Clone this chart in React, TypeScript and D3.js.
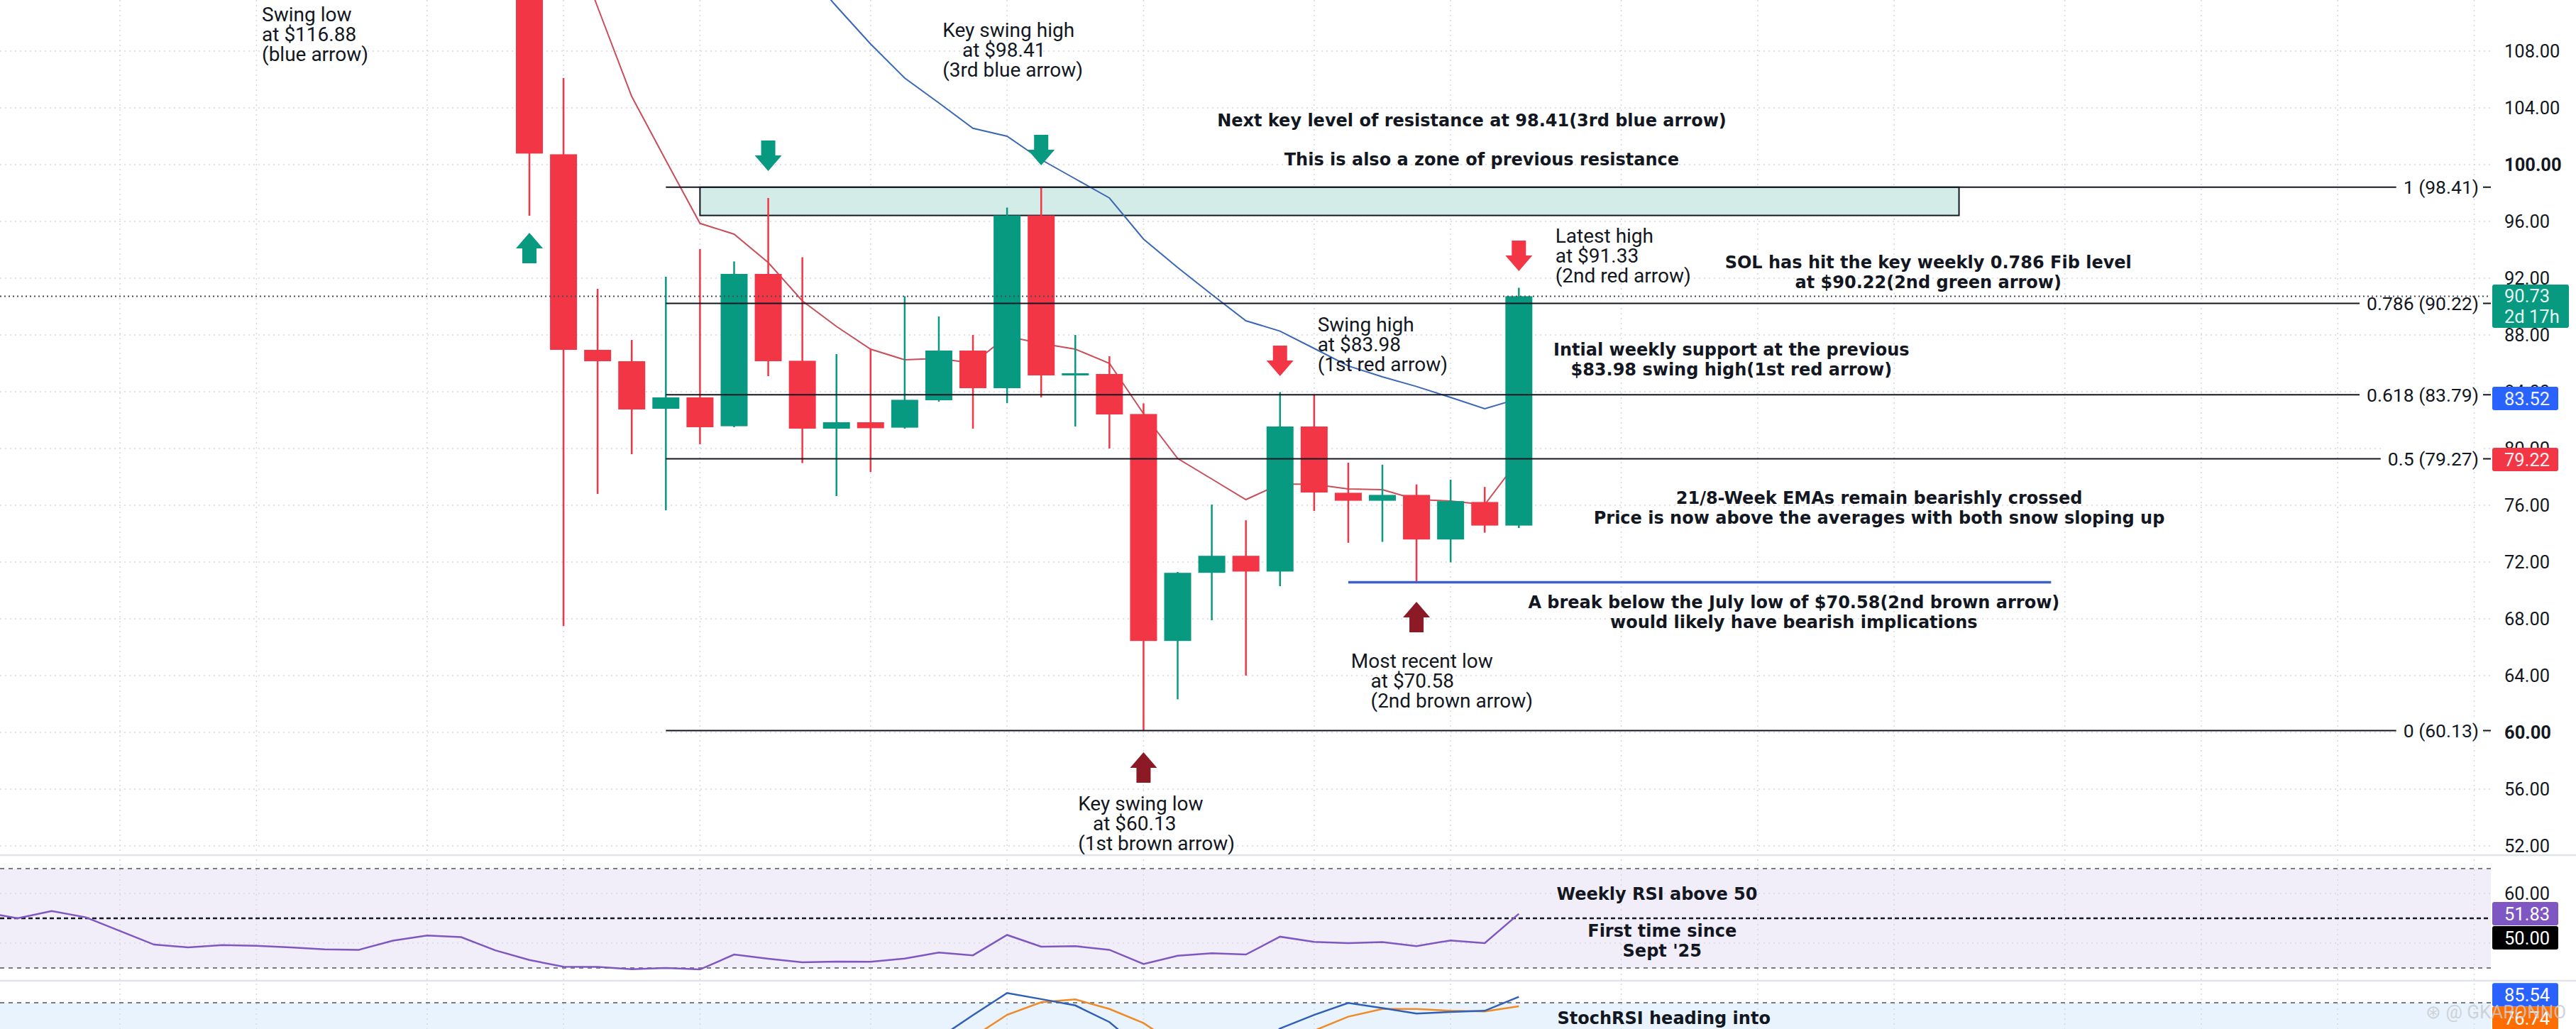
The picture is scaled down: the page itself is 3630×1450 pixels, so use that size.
// @ts-nocheck
import React, { useEffect, useRef } from "react";
import * as d3 from "d3";

const WIDTH = 3630;
const HEIGHT = 1450;
const FONT = "Roboto, 'Noto Sans', sans-serif";
const BOLD_FONT = "'DejaVu Sans', Roboto, sans-serif";

// weekly SOL candles, week index 0..29 (the first one opens above the visible pane)
const opens = [122.5, 100.73, 86.95, 86.15, 82.8, 83.6, 81.57, 92.3, 86.18, 81.4, 81.85, 81.47, 83.4, 86.9, 84.25, 96.42, 85.2, 85.25, 82.43, 66.44, 71.24, 72.44, 71.33, 81.55, 76.88, 76.32, 76.73, 73.59, 76.23, 74.57];
const highs = [124, 106.1, 91.25, 87.65, 92.1, 94.05, 93.18, 97.65, 93.47, 86.65, 87.0, 90.73, 89.3, 88.0, 96.98, 98.41, 88.0, 86.5, 83.17, 71.3, 76.05, 74.94, 83.98, 83.75, 79.0, 78.86, 77.47, 77.8, 77.29, 91.33];
const lows = [96.4, 67.5, 76.8, 79.6, 75.65, 80.3, 81.5, 85.1, 78.98, 76.65, 78.35, 81.4, 83.3, 81.4, 83.2, 83.6, 81.55, 80.0, 60.13, 62.33, 67.9, 64.0, 70.3, 75.6, 73.36, 73.42, 70.58, 71.98, 74.07, 74.4];
const closes = [100.78, 86.95, 86.15, 82.75, 83.6, 81.5, 92.3, 86.15, 81.4, 81.85, 81.43, 83.43, 86.9, 84.25, 96.42, 85.15, 85.3, 82.4, 66.44, 71.24, 72.44, 71.33, 81.55, 76.9, 76.32, 76.73, 73.59, 76.29, 74.57, 90.73];

// 8 week (red) and 21 week (blue) EMAs, same weeks
const ema8 = [122, 117.5, 111.1, 104.8, 100.3, 95.86, 95.1, 93.1, 90.4, 88.6, 87.0, 86.25, 86.35, 86.0, 87.9, 87.4, 87.0, 86.0, 82.45, 79.3, 77.85, 76.4, 77.5, 77.47, 77.15, 77.1, 76.4, 76.3, 76.05, 79.22];
const ema21 = [134, 131, 128.5, 126, 123.5, 121, 118.5, 116.2, 113.9, 111.15, 108.5, 106.1, 104.35, 102.56, 102.0, 100.35, 99.0, 97.65, 94.75, 92.75, 90.85, 89.0, 88.27, 87.05, 85.82, 85.05, 84.37, 83.6, 82.8, 83.52];

// weekly RSI, week index -16..29
const rsiStart = -16;
const rsi = [52.5, 50.0, 52.9, 50.4, 44.9, 39.4, 38.3, 39.2, 38.9, 38.3, 37.5, 37.3, 41.0, 43.1, 42.4, 37.1,
  33.2, 30.5, 30.4, 29.5, 30.0, 29.4, 35.4, 33.7, 32.3, 32.6, 32.5, 33.8, 36.2, 35.1, 43.3, 38.6, 38.8, 37.3, 31.6, 34.9, 35.9, 35.4, 42.6, 40.5, 40.0, 40.4, 38.8, 41.1, 40.0, 51.83];

// stoch RSI K / D, week index 12..29 (only the top of that pane is visible)
const stochStart = 12;
const stochK = [47, 68.4, 89.1, 83.4, 77.5, 62, 35, 18, 12, 30, 56, 68.7, 79.8, 75, 69.9, 71.4, 72.5, 85.54];
const stochD = [30, 48, 68.7, 80.5, 83.1, 74.2, 61, 40, 22, 20, 35, 54, 67.0, 74.2, 74.2, 72.5, 71.9, 76.74];

const priceTicks = [52, 56, 60, 64, 68, 72, 76, 80, 84, 88, 92, 96, 100, 104, 108];
const boldTicks = [60, 100];
const rsiGridTicks = [40, 60];
const rsiLabelTicks = [60];
const monthGrid = [-12, -8, -3, 1, 5, 10, 14, 18, 23, 27, 32, 36, 40, 45, 49, 53, 57];

const fibLevels = ["1", "0.786", "0.618", "0.5", "0"];
const fibPrices = [98.41, 90.22, 83.79, 79.27, 60.13];
const resistanceZone = [96.42, 98.41];
const julyLow = 70.58;

const arrows = [
  { week: 0, tip: 95.2, dir: "up", color: "#089981" },
  { week: 7, tip: 99.55, dir: "down", color: "#089981" },
  { week: 15, tip: 99.95, dir: "down", color: "#089981" },
  { week: 22, tip: 85.1, dir: "down", color: "#f23645" },
  { week: 29, tip: 92.5, dir: "down", color: "#f23645" },
  { week: 18, tip: 58.6, dir: "up", color: "#8b1a26" },
  { week: 26, tip: 69.2, dir: "up", color: "#8b1a26" },
];

const notes = [
  { pane: "price", week: -7.84, value: 110.6, anchor: "start", bold: false, lines: ["Swing low", "at $116.88", "(blue arrow)"] },
  { pane: "price", week: 12.11, value: 109.48, anchor: "start", bold: false, lines: ["Key swing high", "    at $98.41", "(3rd blue arrow)"] },
  { pane: "price", week: 27.62, value: 103.12, anchor: "middle", bold: true, lines: ["Next key level of resistance at 98.41(3rd blue arrow)"] },
  { pane: "price", week: 27.91, value: 100.33, anchor: "middle", bold: true, lines: ["This is also a zone of previous resistance"] },
  { pane: "price", week: 30.07, value: 94.97, anchor: "start", bold: false, lines: ["Latest high", "at $91.33", "(2nd red arrow)"] },
  { pane: "price", week: 41.0, value: 93.12, anchor: "middle", bold: true, lines: ["SOL has hit the key weekly 0.786 Fib level", "at $90.22(2nd green arrow)"] },
  { pane: "price", week: 23.1, value: 88.72, anchor: "start", bold: false, lines: ["Swing high", "at $83.98", "(1st red arrow)"] },
  { pane: "price", week: 35.23, value: 86.935, anchor: "middle", bold: true, lines: ["Intial weekly support at the previous", "$83.98 swing high(1st red arrow)"] },
  { pane: "price", week: 39.56, value: 76.515, anchor: "middle", bold: true, lines: ["21/8-Week EMAs remain bearishly crossed", "Price is now above the averages with both snow sloping up"] },
  { pane: "price", week: 37.06, value: 69.15, anchor: "middle", bold: true, lines: ["A break below the July low of $70.58(2nd brown arrow)", "would likely have bearish implications"] },
  { pane: "price", week: 24.08, value: 65.05, anchor: "start", bold: false, lines: ["Most recent low", "    at $70.58", "    (2nd brown arrow)"] },
  { pane: "price", week: 16.08, value: 55.0, anchor: "start", bold: false, lines: ["Key swing low", "   at $60.13", "(1st brown arrow)"] },
  { pane: "rsi", week: 33.05, value: 59.7, anchor: "middle", bold: true, lines: ["Weekly RSI above 50"] },
  { pane: "rsi", week: 33.2, value: 44.86, anchor: "middle", bold: true, lines: ["First time since", "Sept '25"] },
  { pane: "stoch", week: 33.25, value: 65.4, anchor: "middle", bold: true, lines: ["StochRSI heading into"] },
];

function arrowPath(cx, tip, dir) {
  // dir 1 points down (tip at the bottom), -1 points up
  const headW = 19, headL = 22, stemW = 10, total = 43;
  const b = tip - dir * headL;
  const e = tip - dir * total;
  return `M${cx},${tip}L${cx - headW},${b}L${cx - stemW},${b}L${cx - stemW},${e}L${cx + stemW},${e}L${cx + stemW},${b}L${cx + headW},${b}Z`;
}

function drawChart(svgEl) {
  const svg = d3.select(svgEl);
  svg.selectAll("*").remove();

  const paneRight = 3510;
  const mainBottom = 1205;
  const rsiBottom = 1382;
  const axisX = 3529;

  const x = d3.scaleLinear().domain([0, 29]).range([746, 746 + 29 * 48.08]);
  const y = d3.scaleLinear().domain([60, 100]).range([1032, 232]);
  const yRsi = d3.scaleLinear().domain([30, 70]).range([1364, 1224]);
  const yStoch = d3.scaleLinear().domain([80, 100]).range([1413, 1382.8]);
  const paneY = { price: y, rsi: yRsi, stoch: yStoch };

  svg.append("rect").attr("width", WIDTH).attr("height", HEIGHT).attr("fill", "#ffffff");

  const defs = svg.append("defs");
  defs.append("clipPath").attr("id", "clip-main").append("rect")
    .attr("x", 0).attr("y", 0).attr("width", paneRight).attr("height", mainBottom);
  defs.append("clipPath").attr("id", "clip-rsi").append("rect")
    .attr("x", 0).attr("y", mainBottom).attr("width", paneRight).attr("height", rsiBottom - mainBottom);
  defs.append("clipPath").attr("id", "clip-stoch").append("rect")
    .attr("x", 0).attr("y", rsiBottom).attr("width", paneRight).attr("height", HEIGHT - rsiBottom);

  // indicator bands
  svg.append("rect").attr("x", 0).attr("width", paneRight)
    .attr("y", yRsi(70)).attr("height", yRsi(30) - yRsi(70)).attr("fill", "#f2eef9");
  svg.append("g").attr("clip-path", "url(#clip-stoch)").append("rect").attr("x", 0).attr("width", paneRight)
    .attr("y", yStoch(80)).attr("height", yStoch(20) - yStoch(80)).attr("fill", "#e8f3fd");

  // grid
  const grid = svg.append("g").attr("stroke", "#d5d8df").attr("stroke-width", 1.5).attr("stroke-dasharray", "2 5");
  grid.append("g").selectAll("line").data(priceTicks).join("line")
    .attr("x1", 0).attr("x2", paneRight).attr("y1", (d) => y(d)).attr("y2", (d) => y(d));
  grid.append("g").selectAll("line").data(rsiGridTicks).join("line")
    .attr("x1", 0).attr("x2", paneRight).attr("y1", (d) => yRsi(d)).attr("y2", (d) => yRsi(d));
  grid.append("g").selectAll("line").data(monthGrid).join("line")
    .attr("x1", (d) => x(d)).attr("x2", (d) => x(d)).attr("y1", 0).attr("y2", HEIGHT);

  // pane separators
  svg.append("g").attr("stroke", "#e0e3eb").attr("stroke-width", 2.5)
    .selectAll("line").data([mainBottom, rsiBottom]).join("line")
    .attr("x1", 0).attr("x2", WIDTH).attr("y1", (d) => d).attr("y2", (d) => d);

  const main = svg.append("g").attr("clip-path", "url(#clip-main)");

  // resistance zone
  main.append("rect")
    .attr("x", x(5)).attr("width", x(41.9) - x(5))
    .attr("y", y(resistanceZone[1])).attr("height", y(resistanceZone[0]) - y(resistanceZone[1]))
    .attr("fill", "#d3ece7").attr("stroke", "#131722").attr("stroke-width", 2);

  // fib retracement lines
  const fib = svg.append("g");
  fibLevels.forEach((lvl, i) => {
    const yy = y(fibPrices[i]);
    fib.append("line").attr("x1", x(4)).attr("x2", paneRight).attr("y1", yy).attr("y2", yy)
      .attr("stroke", "#131722").attr("stroke-width", 2);
    const bg = fib.append("rect").attr("fill", "#ffffff");
    const t = fib.append("text").attr("x", 3493).attr("y", yy).attr("text-anchor", "end")
      .attr("dominant-baseline", "central").attr("font-family", FONT).attr("font-size", 26.5)
      .attr("fill", "#131722").text(`${lvl} (${fibPrices[i].toFixed(2)})`);
    const bb = t.node().getBBox();
    bg.attr("x", bb.x - 10).attr("y", bb.y).attr("width", bb.width + 16).attr("height", bb.height);
  });

  // last price dotted line
  const last = closes[closes.length - 1];
  svg.append("line").attr("x1", 0).attr("x2", paneRight).attr("y1", y(last)).attr("y2", y(last))
    .attr("stroke", "#4a4d57").attr("stroke-width", 2).attr("stroke-dasharray", "2 4");

  // July low line
  svg.append("line").attr("x1", x(24)).attr("x2", x(44.6)).attr("y1", y(julyLow)).attr("y2", y(julyLow))
    .attr("stroke", "#3f5fc8").attr("stroke-width", 3.5);

  // EMAs
  const line = d3.line().x((d, i) => x(i)).y((d) => y(d));
  main.append("path").datum(ema8).attr("d", line).attr("fill", "none").attr("stroke", "#c94e58").attr("stroke-width", 2);
  main.append("path").datum(ema21).attr("d", line).attr("fill", "none").attr("stroke", "#3a67b8").attr("stroke-width", 2);

  // candles
  const I = d3.range(closes.length);
  const candle = main.append("g").selectAll("g").data(I).join("g")
    .attr("fill", (i) => (closes[i] >= opens[i] ? "#089981" : "#f23645"))
    .attr("stroke", (i) => (closes[i] >= opens[i] ? "#089981" : "#f23645"));
  candle.append("line")
    .attr("x1", (i) => x(i)).attr("x2", (i) => x(i))
    .attr("y1", (i) => y(highs[i])).attr("y2", (i) => y(lows[i]))
    .attr("stroke-width", 2.5);
  candle.append("rect")
    .attr("stroke", "none")
    .attr("x", (i) => x(i) - 19).attr("width", 38)
    .attr("y", (i) => y(Math.max(opens[i], closes[i])))
    .attr("height", (i) => Math.max(3, Math.abs(y(opens[i]) - y(closes[i]))));

  // arrows
  svg.append("g").selectAll("path").data(arrows).join("path")
    .attr("d", (a) => arrowPath(x(a.week), y(a.tip), a.dir === "down" ? 1 : -1))
    .attr("fill", (a) => a.color);

  // notes
  const noteG = svg.append("g").attr("fill", "#131722");
  notes.forEach((n) => {
    const sc = paneY[n.pane];
    const t = noteG.append("text")
      .attr("x", x(n.week)).attr("y", sc(n.value))
      .attr("text-anchor", n.anchor)
      .attr("font-family", n.bold ? BOLD_FONT : FONT)
      .attr("font-size", n.bold ? 24 : 28)
      .attr("font-weight", n.bold ? 700 : 400)
      .style("white-space", "pre");
    n.lines.forEach((ln, k) => {
      t.append("tspan").attr("x", x(n.week)).attr("y", sc(n.value) + k * 28)
        .attr("dominant-baseline", "central").text(ln);
    });
  });

  // RSI pane
  const rsiG = svg.append("g").attr("clip-path", "url(#clip-rsi)");
  rsiG.selectAll("line").data([70, 30]).join("line")
    .attr("x1", 0).attr("x2", paneRight).attr("y1", (d) => yRsi(d)).attr("y2", (d) => yRsi(d))
    .attr("stroke", "#787b86").attr("stroke-width", 2).attr("stroke-dasharray", "6 6");
  rsiG.append("line").attr("x1", 0).attr("x2", paneRight).attr("y1", yRsi(50)).attr("y2", yRsi(50))
    .attr("stroke", "#131722").attr("stroke-width", 2.5).attr("stroke-dasharray", "6 4");
  rsiG.append("path").datum(rsi)
    .attr("d", d3.line().x((d, i) => x(rsiStart + i)).y((d) => yRsi(d)))
    .attr("fill", "none").attr("stroke", "#7e57c2").attr("stroke-width", 2.5);

  // Stoch RSI pane
  const stG = svg.append("g").attr("clip-path", "url(#clip-stoch)");
  stG.append("line").attr("x1", 0).attr("x2", paneRight).attr("y1", yStoch(80)).attr("y2", yStoch(80))
    .attr("stroke", "#787b86").attr("stroke-width", 2).attr("stroke-dasharray", "6 6");
  const stLine = d3.line().x((d, i) => x(stochStart + i)).y((d) => yStoch(d));
  stG.append("path").datum(stochD).attr("d", stLine).attr("fill", "none").attr("stroke", "#f08a24").attr("stroke-width", 2.5);
  stG.append("path").datum(stochK).attr("d", stLine).attr("fill", "none").attr("stroke", "#2f5fb8").attr("stroke-width", 2.5);

  // price scale
  const axis = svg.append("g").attr("font-family", FONT).attr("font-size", 25.5).attr("fill", "#131722");
  axis.selectAll("text.p").data(priceTicks).join("text").attr("class", "p")
    .attr("x", axisX).attr("y", (d) => y(d)).attr("dominant-baseline", "central")
    .attr("font-weight", (d) => (boldTicks.includes(d) ? 700 : 400))
    .text((d) => d.toFixed(2));
  axis.selectAll("text.r").data(rsiLabelTicks).join("text").attr("class", "r")
    .attr("x", axisX).attr("y", (d) => yRsi(d)).attr("dominant-baseline", "central")
    .text((d) => d.toFixed(2));

  const box = (yc, lines, fill, color, w = 93) => {
    const h = 33 + (lines.length - 1) * 28;
    axis.append("rect").attr("x", 3512).attr("y", yc - 16.5).attr("width", w).attr("height", h).attr("rx", 3).attr("fill", fill);
    lines.forEach((ln, k) => {
      axis.append("text").attr("x", axisX).attr("y", yc + k * 28.5).attr("dominant-baseline", "central")
        .attr("fill", color).text(ln);
    });
  };
  box(y(last), [last.toFixed(2), "2d 17h"], "#089981", "#e6f7f3", 108);
  box(y(ema21[29]), [ema21[29].toFixed(2)], "#2962ff", "#eef2ff");
  box(y(ema8[29]), [ema8[29].toFixed(2)], "#f23645", "#fdeef0");
  box(yRsi(rsi[rsi.length - 1]), [rsi[rsi.length - 1].toFixed(2)], "#7e57c2", "#ffffff");
  box(yRsi(rsi[rsi.length - 1]) + 34, ["50.00"], "#000000", "#ffffff");
  box(yStoch(stochK[stochK.length - 1]) - 3, [stochK[stochK.length - 1].toFixed(2)], "#2962ff", "#ffffff");
  box(yStoch(stochK[stochK.length - 1]) + 30, [stochD[stochD.length - 1].toFixed(2)], "#ff6d00", "#ffffff");

  // watermark
  svg.append("text").attr("x", 3418).attr("y", 1426).attr("dominant-baseline", "central")
    .attr("font-family", FONT).attr("font-size", 26).attr("fill", "#c8cad0").attr("opacity", 0.8)
    .text("\u229B @ GKARONNO");
}

export default function App() {
  const ref = useRef(null);

  useEffect(() => {
    if (!ref.current) return;
    drawChart(ref.current);
  }, []);

  return (
    <div style={{ position: "fixed", left: 0, top: 0, width: WIDTH, height: HEIGHT, overflow: "hidden" }}>
      <svg ref={ref} width={WIDTH} height={HEIGHT} style={{ display: "block" }} />
    </div>
  );
}
